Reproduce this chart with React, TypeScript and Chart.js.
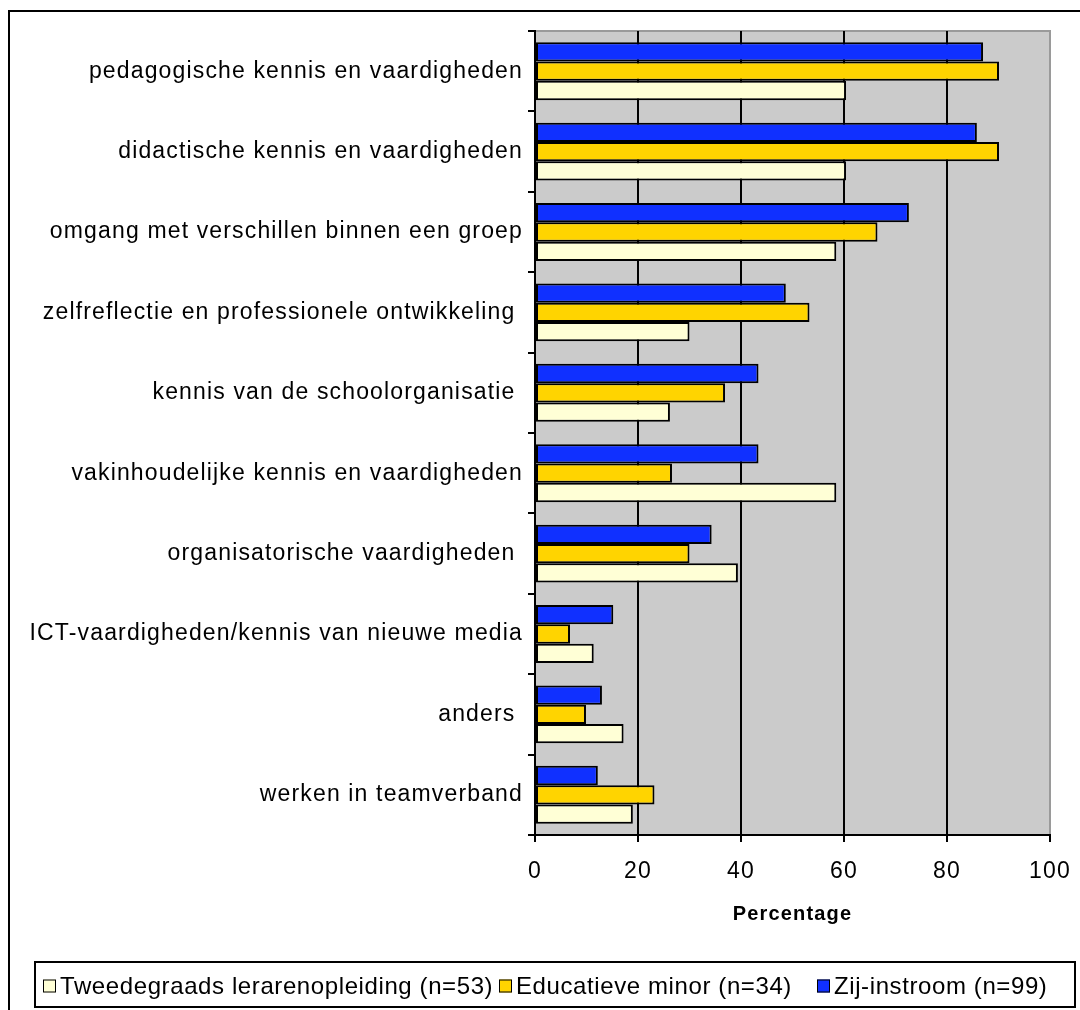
import { useEffect, useRef } from "react";
import { Chart, registerables } from "chart.js";

Chart.register(...registerables);

const FONT = "'Liberation Sans', Arial, sans-serif";

const categories = [
  "pedagogische kennis en vaardigheden",
  "didactische kennis en vaardigheden",
  "omgang met verschillen binnen een groep",
  "zelfreflectie en professionele ontwikkeling ",
  "kennis van de schoolorganisatie ",
  "vakinhoudelijke kennis en vaardigheden",
  "organisatorische vaardigheden ",
  "ICT-vaardigheden/kennis van nieuwe media",
  "anders ",
  "werken in teamverband",
];

const zijInstroom = [87.0, 85.8, 72.6, 48.7, 43.4, 43.4, 34.3, 15.2, 13.0, 12.2];
const educatieveMinor = [90.1, 90.1, 66.5, 53.3, 36.9, 26.6, 30.0, 6.8, 9.9, 23.2];
const tweedegraads = [60.4, 60.4, 58.5, 30.0, 26.2, 58.5, 39.4, 11.4, 17.2, 19.0];

const seriesLabels = [
  "Zij-instroom (n=99)",
  "Educatieve minor (n=34)",
  "Tweedegraads lerarenopleiding (n=53)",
];
const seriesColors = ["#1030ff", "#ffd400", "#ffffd6"];

const xMin = 0;
const xMax = 100;
const xStep = 20;
const xTitle = "Percentage";

const LS = "1.15px";

const backgroundPlugin = {
  id: "bgFrame",
  beforeLayout(chart: any) {
    chart.ctx.letterSpacing = LS;
  },
  beforeDraw(chart: any) {
    const { ctx, chartArea } = chart;
    ctx.save();
    ctx.letterSpacing = "0px";
    // outer frame
    ctx.strokeStyle = "#000";
    ctx.lineWidth = 2;
    ctx.beginPath();
    ctx.moveTo(9, 1012);
    ctx.lineTo(9, 11);
    ctx.lineTo(1082, 11);
    ctx.stroke();
    // plot area
    ctx.fillStyle = "#cbcbcb";
    ctx.fillRect(chartArea.left, chartArea.top, chartArea.right - chartArea.left, chartArea.bottom - chartArea.top);
    ctx.strokeStyle = "#9a9a9a";
    ctx.lineWidth = 2;
    ctx.strokeRect(chartArea.left, chartArea.top, chartArea.right - chartArea.left, chartArea.bottom - chartArea.top);
    ctx.restore();
    ctx.letterSpacing = LS;
  },
  afterDraw(chart: any) {
    const { ctx } = chart;
    ctx.save();
    ctx.letterSpacing = "0.6px";
    ctx.strokeStyle = "#000";
    ctx.lineWidth = 2;
    ctx.strokeRect(35, 962, 1040, 45);
    ctx.font = `24px ${FONT}`;
    ctx.textBaseline = "middle";
    ctx.textAlign = "left";
    const ds = chart.data.datasets.slice().reverse();
    const markerX = [43, 499, 817];
    const cy = 986;
    ds.forEach((d: any, i: number) => {
      const x = markerX[i];
      ctx.fillStyle = d.backgroundColor;
      ctx.fillRect(x, cy - 6.5, 13, 13);
      ctx.strokeStyle = "#000";
      ctx.lineWidth = 1;
      ctx.strokeRect(x + 0.5, cy - 6, 12, 12);
      ctx.fillStyle = "#000";
      ctx.fillText(d.label, x + 17, cy + 1);
    });
    ctx.restore();
  },
};

export default function App() {
  const ref = useRef<HTMLCanvasElement>(null);
  useEffect(() => {
    Chart.defaults.font.family = FONT;
    const chart = new Chart(ref.current!, {
      type: "bar",
      data: {
        labels: categories,
        datasets: [zijInstroom, educatieveMinor, tweedegraads].map((data, i) => ({
          label: seriesLabels[i],
          data,
          backgroundColor: seriesColors[i],
          borderColor: "#000",
          borderWidth: 2,
          borderSkipped: false,
          barPercentage: 1,
          categoryPercentage: 0.72,
        })),
      },
      options: {
        indexAxis: "y",
        responsive: false,
        animation: false,
        devicePixelRatio: 1,
        layout: { padding: { left: 12, right: 30, top: 31, bottom: 84 } },
        plugins: {
          legend: { display: false },
          tooltip: { enabled: false },
        },
        scales: {
          x: {
            min: xMin,
            max: xMax,
            ticks: {
              stepSize: xStep,
              color: "#000",
              font: { size: 23 },
              padding: 16,
            },
            grid: {
              color: (c: any) => (c.tick && c.tick.value === xMax ? "#9a9a9a" : "#000"),
              tickColor: "#000",
              lineWidth: 2,
              tickLength: 7,
            },
            border: { color: "#000", width: 2 },
            title: {
              display: true,
              text: xTitle,
              color: "#000",
              font: { size: 20, weight: "bold" },
              padding: { top: 0, bottom: 0 },
            },
            afterFit: (s: any) => {
              s.height = 91;
              s.paddingLeft = 0;
              s.paddingRight = 0;
            },
          },
          y: {
            grid: {
              drawOnChartArea: false,
              drawTicks: true,
              tickLength: 7,
              color: "#000",
              lineWidth: 2,
            },
            border: { color: "#000", width: 2 },
            ticks: {
              color: "#000",
              font: { size: 23 },
              padding: 5,
              autoSkip: false,
            },
            afterFit: (s: any) => {
              s.width = 523;
              s.paddingTop = 0;
              s.paddingBottom = 0;
            },
          },
        },
      },
      plugins: [backgroundPlugin],
    } as any);
    return () => chart.destroy();
  }, []);
  return (
    <canvas
      ref={ref}
      width={1080}
      height={1010}
      style={{ position: "absolute", left: 0, top: 0, width: 1080, height: 1010 }}
    />
  );
}
